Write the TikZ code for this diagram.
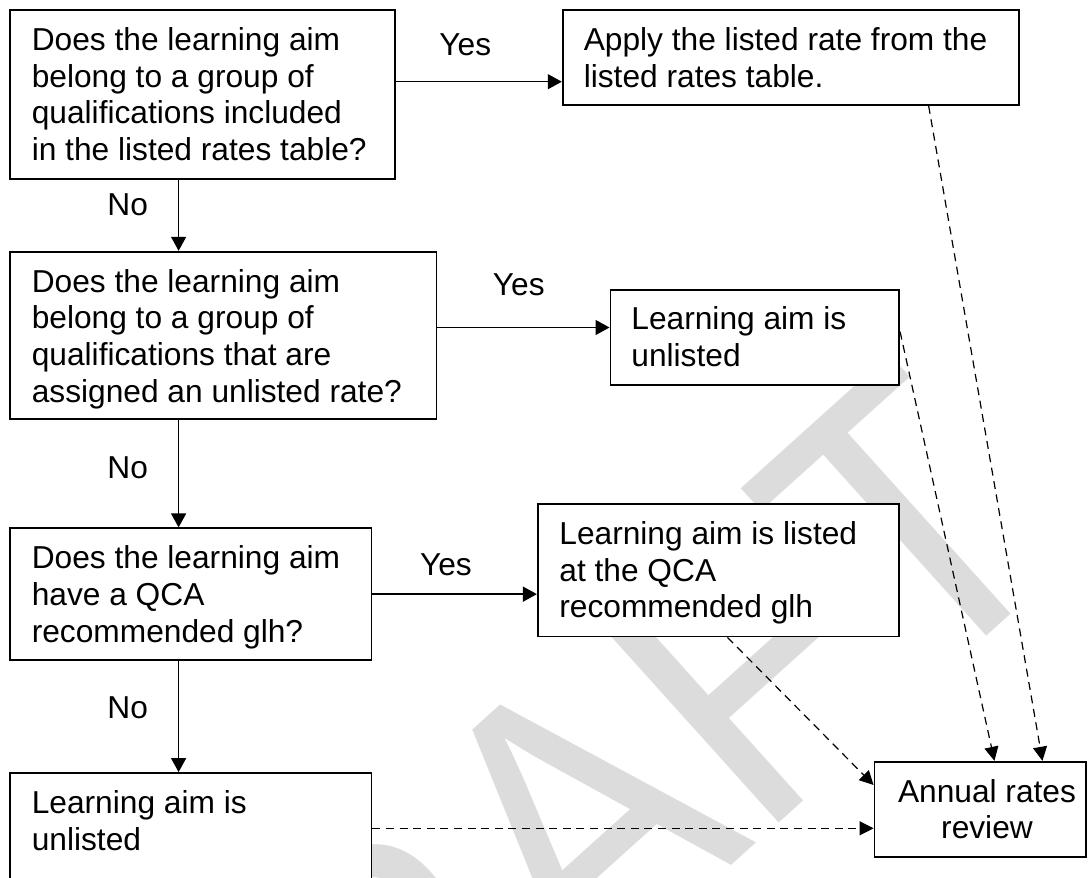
\documentclass[tikz,border=0pt]{standalone}
\usepackage{fontspec}
\setmainfont{Liberation Sans}
\usetikzlibrary{arrows.meta,fit,calc}
\definecolor{wmgray}{RGB}{220,220,220}
\newcommand\bxf{\fontsize{15.85}{18.35}\selectfont}
\newcommand\fl{\rule{0pt}{0.9em}}
\tikzset{
  box/.style={draw, line width=0.9pt, fill=white, inner sep=0pt, rectangle},
  txt/.style={anchor=north west, inner sep=0pt, align=left, font=\bxf},
  lbl/.style={anchor=base west, inner sep=0pt, font=\bxf},
  arr/.style={line width=0.7pt, -{Triangle[length=7pt,width=7.5pt]}},
  darr/.style={line width=0.6pt, dash pattern=on 4pt off 2.8pt, -{Triangle[length=7pt,width=7pt]}},
}
\begin{document}
\begin{tikzpicture}[x=0.5pt,y=-0.5pt]
\useasboundingbox (0,0) rectangle (1088,878);
\fill[white] (0,0) rectangle (1088,878);
% watermark
\begin{scope}
\clip (0,0) rectangle (1088,878);
\node[rotate=42, xscale=0.89, anchor=base west, inner sep=0pt, text=wmgray,
      font=\fontsize{199}{199}\selectfont] (wm) at (201.6,1342.9) {DRAFT};
\end{scope}
% boxes
\node[box, fit={(10,10) (395,179)}] (q1) {};
\node[box, fit={(562.7,10) (1019,105)}] (a1) {};
\node[box, fit={(10,251.7) (436.4,419.3)}] (q2) {};
\node[box, fit={(610.4,290) (899.2,385)}] (u1) {};
\node[box, fit={(10,528.3) (371.4,660)}] (q3) {};
\node[box, fit={(537.8,504) (899,636.5)}] (qca) {};
\node[box, fit={(10,773) (371.4,883.6)}] (q5) {};
\node[box, fit={(874.5,761.7) (1086,856.7)}] (ann) {};
% box texts
\node[txt] (q1t) at (31.4,21.47) {\fl Does the learning aim\\belong to a group of\\qualifications included\\in the listed rates table?};
\node[txt] (a1t) at (583.4,21.47) {\fl Apply the listed rate from the\\listed rates table.};
\node[txt] (q2t) at (31.4,263.17) {\fl Does the learning aim\\belong to a group of\\qualifications that are\\assigned an unlisted rate?};
\node[txt] (u1t) at (631,300.47) {\fl Learning aim is\\unlisted};
\node[txt] (q3t) at (31.4,539.77) {\fl Does the learning aim\\have a QCA\\recommended glh?};
\node[txt] (qcat) at (559,515.47) {\fl Learning aim is listed\\at the QCA\\recommended glh};
\node[txt] (q5t) at (31.4,784.77) {\fl Learning aim is\\unlisted};
\node[txt, anchor=north, align=center] (annt) at (987,773.17) {\fl Annual rates\\review};
% labels
\node[lbl] (y1) at (439,55) {Yes};
\node[lbl] (y2) at (492.5,295) {Yes};
\node[lbl] (y3) at (419.6,575) {Yes};
\node[lbl] (n1) at (107,215) {No};
\node[lbl] (n2) at (107,478.3) {No};
\node[lbl] (n3) at (107,718.3) {No};
% solid connectors
\draw[arr] ([yshift=6.4pt]q1.east) -- ([yshift=6.4pt]q1.east -| a1.west);
\draw[arr] ([xshift=-11.95pt]q1.south) -- ([xshift=-11.95pt]q1.south |- q2.north);
\draw[arr] ([yshift=4pt]q2.east) -- ([yshift=4pt]q2.east -| u1.west);
\draw[arr] ([xshift=-22.3pt]q2.south) -- ([xshift=-22.3pt]q2.south |- q3.north);
\draw[arr] (q3.east) -- (q3.east -| qca.west);
\draw[arr] ([xshift=-6.05pt]q3.south) -- ([xshift=-6.05pt]q3.south |- q5.north);
% dashed connectors
\draw[darr] ([xshift=68.9pt]a1.south) -- ([xshift=31.1pt]ann.north);
\draw[darr] ([yshift=2.9pt]u1.east) -- ([xshift=7.1pt]ann.north);
\draw[darr] ([xshift=4.55pt]qca.south) -- ([yshift=12.1pt]ann.west);
\draw[darr] (q5.east) -- (q5.east -| ann.west);
\end{tikzpicture}
\end{document}
